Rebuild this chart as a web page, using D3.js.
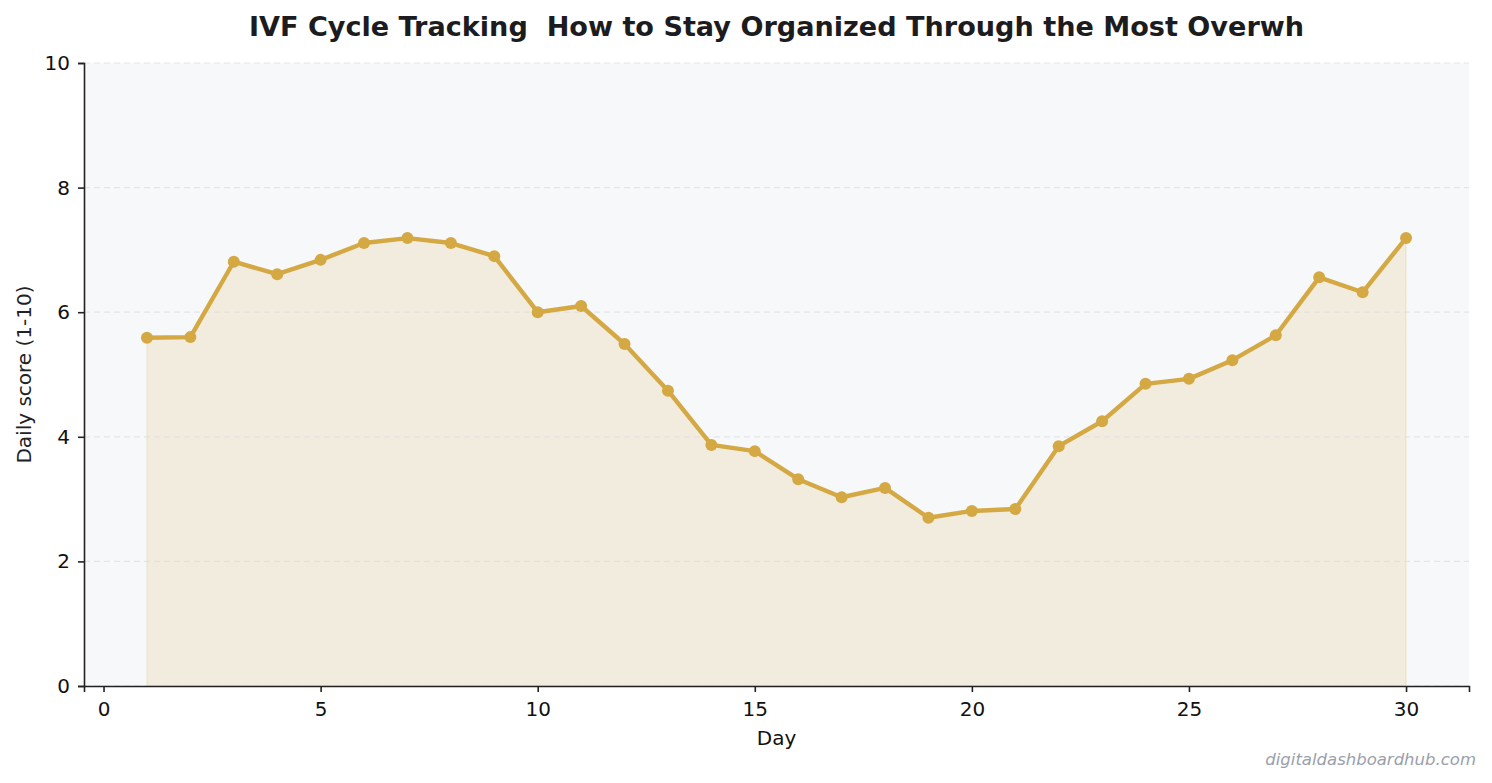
<!DOCTYPE html>
<html>
<head>
<meta charset="utf-8">
<script src="https://cdn.jsdelivr.net/npm/d3@7"></script>
<style>
  body { margin: 0; background: #fff; }
  text { font-family: "DejaVu Sans", sans-serif; }
</style>
</head>
<body>
<div id="chart"></div>
<script>
// chart data
const days = d3.range(1, 31);
const scores = [5.59, 5.60, 6.81, 6.61, 6.84, 7.11, 7.19, 7.11, 6.90, 6.00,
                6.10, 5.49, 4.74, 3.87, 3.77, 3.32, 3.03, 3.18, 2.70, 2.81,
                2.84, 3.85, 4.25, 4.85, 4.93, 5.23, 5.63, 6.56, 6.32, 7.19];
const xTicks = [0, 5, 10, 15, 20, 25, 30];
const yTicks = [0, 2, 4, 6, 8, 10];

const width = 1492, height = 783;
const margin = { top: 63, right: 23, bottom: 97, left: 84 };

const svg = d3.select('#chart').append('svg')
    .attr('width', width)
    .attr('height', height);

const x = d3.scaleLinear().domain([-0.45, 31.45]).range([margin.left, width - margin.right]);
const y = d3.scaleLinear().domain([0, 10]).range([height - margin.bottom, margin.top]);

const data = days.map((d, i) => ({ day: d, score: scores[i] }));
const lineColor = '#d4a843';

// plot background
svg.append('rect')
    .attr('x', margin.left).attr('y', margin.top)
    .attr('width', width - margin.left - margin.right)
    .attr('height', height - margin.top - margin.bottom)
    .attr('fill', '#f7f8fa');

// filled area under line
svg.append('path')
    .datum(data)
    .attr('d', d3.area().x(d => x(d.day)).y0(y(0)).y1(d => y(d.score)))
    .attr('fill', lineColor)
    .attr('fill-opacity', 0.15)
    .attr('stroke', lineColor)
    .attr('stroke-opacity', 0.15)
    .attr('stroke-width', 1.5);

// horizontal grid
svg.append('g')
    .selectAll('line')
    .data(yTicks)
    .enter().append('line')
    .attr('x1', margin.left).attr('x2', width - margin.right)
    .attr('y1', d => y(d)).attr('y2', d => y(d))
    .attr('stroke', '#dcdde0')
    .attr('stroke-opacity', 0.7)
    .attr('stroke-dasharray', '6,4')
    .attr('stroke-width', 1.2);

// line and points
svg.append('path')
    .datum(data)
    .attr('d', d3.line().x(d => x(d.day)).y(d => y(d.score)))
    .attr('fill', 'none')
    .attr('stroke', lineColor)
    .attr('stroke-width', 4.4)
    .attr('stroke-linejoin', 'round');

svg.append('g')
    .selectAll('circle')
    .data(data)
    .enter().append('circle')
    .attr('cx', d => x(d.day))
    .attr('cy', d => y(d.score))
    .attr('r', 6)
    .attr('fill', lineColor);

// axes
const xAxis = svg.append('g')
    .attr('transform', `translate(0,${height - margin.bottom})`)
    .call(d3.axisBottom(x).tickValues(xTicks).tickSizeOuter(0).tickSize(6).tickPadding(10));
const yAxis = svg.append('g')
    .attr('transform', `translate(${margin.left},0)`)
    .call(d3.axisLeft(y).tickValues(yTicks).tickSizeOuter(0).tickSize(6).tickPadding(8));

[xAxis, yAxis].forEach(a => {
    a.select('.domain').attr('stroke', '#222').attr('stroke-width', 1.6);
    a.selectAll('.tick line').attr('stroke', '#222').attr('stroke-width', 1.6);
    a.selectAll('.tick text')
        .attr('font-family', '"DejaVu Sans", sans-serif')
        .attr('font-size', 20)
        .attr('fill', '#111');
});

// axis labels
svg.append('text')
    .attr('x', (margin.left + width - margin.right) / 2)
    .attr('y', 745)
    .attr('text-anchor', 'middle')
    .style('font-size', '20px')
    .attr('fill', '#111')
    .text('Day');

svg.append('text')
    .attr('transform', `translate(31,${(margin.top + height - margin.bottom) / 2}) rotate(-90)`)
    .attr('text-anchor', 'middle')
    .style('font-size', '20px')
    .attr('fill', '#222')
    .text('Daily score (1-10)');

// title
svg.append('text')
    .attr('x', (margin.left + width - margin.right) / 2)
    .attr('y', 36)
    .attr('text-anchor', 'middle')
    .style('font-size', '27.1px')
    .style('font-weight', 'bold')
    .style('white-space', 'pre')
    .attr('fill', '#1c1c20')
    .text('IVF Cycle Tracking  How to Stay Organized Through the Most Overwh');

// watermark
svg.append('text')
    .attr('x', width - 16)
    .attr('y', 765)
    .attr('text-anchor', 'end')
    .style('font-size', '16.5px')
    .style('font-style', 'italic')
    .attr('fill', '#9aa0ab')
    .text('digitaldashboardhub.com');
</script>
</body>
</html>
